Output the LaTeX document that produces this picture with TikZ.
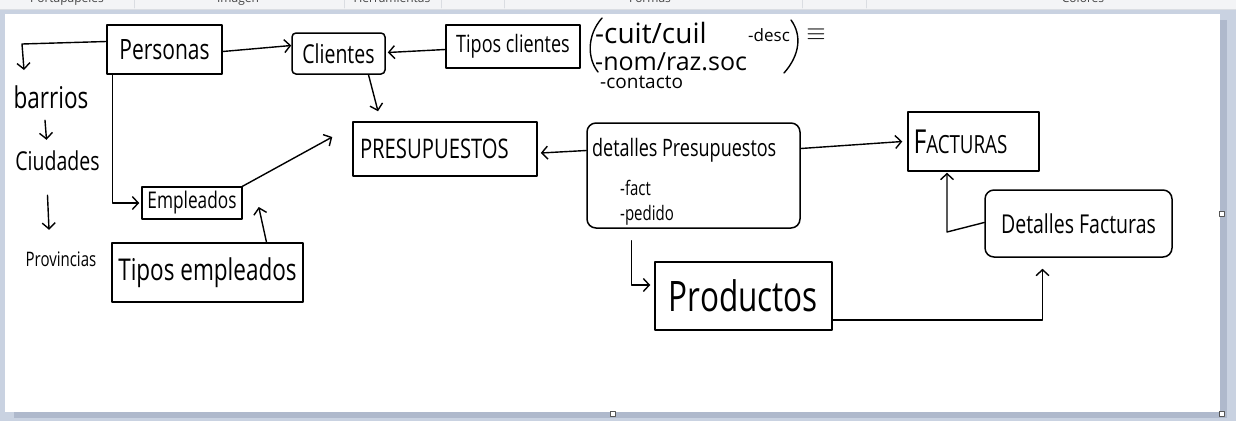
\documentclass[tikz,border=0pt]{standalone}
\usepackage{fontspec}
\setmainfont{Open Sans}
\newfontfamily\hand[FakeStretch=0.75]{Open Sans}
\usetikzlibrary{arrows.meta}
\definecolor{bgblue}{HTML}{C9D2E1}
\definecolor{shadowblue}{HTML}{AFB9CC}
\definecolor{barcol}{HTML}{F3F4F6}
\definecolor{barline}{HTML}{DADDE2}
\definecolor{uitext}{HTML}{444444}
\definecolor{handlecol}{HTML}{555555}
\begin{document}
\begin{tikzpicture}[x=1pt,y=-1pt,line join=round,line cap=round,
  box/.style={draw,line width=1.5pt,inner sep=0pt,font=\hand},
  lbl/.style={inner sep=0pt,font=\hand,text height=22pt,text depth=4pt},
  note/.style={inner sep=0pt,anchor=base west},
  arr/.style={line width=1.4pt,-{Straight Barb[length=6pt,width=13pt,line width=1.4pt]}},
  plain/.style={line width=1.4pt},
  uilbl/.style={inner sep=0pt,anchor=base,text=uitext,font=\fontsize{12}{12}\selectfont},
  handle/.style={draw=handlecol,fill=white,line width=0.8pt,minimum size=5pt,inner sep=0pt}]
\useasboundingbox (0,0) rectangle (1236,421);
% ---------- Paint window background ----------
\fill[bgblue] (0,0) rectangle (1236,421);
\fill[barcol] (0,0) rectangle (1236,8.5);
\draw[barline,line width=1pt] (0,9) -- (1236,9);
\foreach \sx in {134,344,441,504,802,866}{\draw[barline,line width=0.8pt] (\sx,0) -- (\sx,8);}
\begin{scope}
\clip (0,0) rectangle (1236,8.5);
\node[uilbl] (ui1) at (67,2.5) {Portapapeles};
\node[uilbl] (ui2) at (238,2.5) {Imagen};
\node[uilbl] (ui3) at (392,2.5) {Herramientas};
\node[uilbl] (ui4) at (650,2.5) {Formas};
\node[uilbl] (ui5) at (1083,2.5) {Colores};
\end{scope}
\fill[shadowblue] (1219,20) rectangle (1227,418);
\fill[shadowblue] (14,412) rectangle (1227,418);
\fill[white] (5,14) rectangle (1219.5,412);
\node[handle] (h1) at (1222,214) {};
\node[handle] (h2) at (1222,414) {};
\node[handle] (h3) at (613,414) {};
% ---------- Boxes ----------
\node[box,minimum width=115pt,minimum height=49pt] (per) at (164.5,49.5) {\fontsize{28}{30}\selectfont Personas};
\node[box,rounded corners=4pt,minimum width=93pt,minimum height=41pt] (cli) at (338.5,53.5) {\fontsize{26}{28}\selectfont Clientes};
\node[box,minimum width=134pt,minimum height=43pt] (tcli) at (513,46.5) {\fontsize{24}{26}\selectfont Tipos clientes};
\node[box,minimum width=100pt,minimum height=32pt] (emp) at (192,203) {\fontsize{23}{24}\selectfont Empleados};
\node[box,minimum width=191pt,minimum height=59pt] (temp) at (207.5,272.5) {\fontsize{30}{32}\selectfont Tipos empleados};
\node[box,minimum width=184pt,minimum height=54pt,text width=170pt,align=left] (pre) at (445,149) {\fontsize{27}{29}\selectfont PRESUPUESTOS};
\node[box,rounded corners=9pt,minimum width=213pt,minimum height=105pt] (detp) at (693.5,175.5) {};
\node[box,minimum width=177pt,minimum height=68pt] (prod) at (743.5,296) {\fontsize{42}{44}\selectfont Productos};
\node[box,minimum width=131pt,minimum height=59pt,text width=120pt,align=left] (fac) at (973.5,141.5) {{\fontsize{33}{33}\selectfont F}{\fontsize{25}{25}\selectfont ACTURAS}};
\node[box,rounded corners=9pt,minimum width=187pt,minimum height=67pt] (detf) at (1078.5,223.5) {\fontsize{26}{28}\selectfont Detalles Facturas};
% texts inside Detalles Presupuestos
\node[note,font=\hand\fontsize{24}{26}\selectfont] (detpt) at (592,156) {detalles Presupuestos};
\node[note,font=\hand\fontsize{20}{22}\selectfont] (detpf) at (620,195) {-fact};
\node[note,font=\hand\fontsize{20}{22}\selectfont] (detpp) at (620,220) {-pedido};
% ---------- Left column ----------
\node[lbl,font=\hand\fontsize{30}{32}\selectfont] (bar) at (51,99) {barrios};
\node[lbl,font=\hand\fontsize{26}{28}\selectfont] (ciu) at (57.5,161) {Ciudades};
\node[lbl,font=\hand\fontsize{20}{22}\selectfont] (prov) at (61,257) {Provincias};
% ---------- Annotation next to Tipos clientes ----------
\draw[plain] (602,18) .. controls (587,35) and (587,58) .. (598,72);
\draw[plain] (791,20) .. controls (802,35) and (800,55) .. (784,73);
\node[note,font=\fontsize{28}{30}\selectfont] (a1) at (595,43) {-cuit/cuil};
\node[note,font=\fontsize{17}{19}\selectfont] (a2) at (748,41) {-desc};
\node[inner sep=0pt,font=\fontsize{28}{28}\selectfont] (a3) at (816,35) {$\equiv$};
\node[note,font=\fontsize{25}{27}\selectfont] (a4) at (595,70) {-nom/raz.soc};
\node[note,font=\fontsize{19}{21}\selectfont] (a5) at (600,88) {-contacto};
% ---------- Connectors ----------
\draw[arr] ([yshift=8pt]per.west) -- (22,44) -- (24,70);
\draw[arr] ([xshift=-6pt,yshift=-8pt]bar.south) -- ([xshift=-11pt,yshift=8pt]ciu.north);
\draw[arr] ([xshift=-10pt,yshift=-21pt]ciu.south) -- ([xshift=-12pt,yshift=14pt]prov.north);
\draw[arr] ([yshift=-2pt]per.east) -- ([yshift=8pt]cli.west);
\draw[arr] ([yshift=-3pt]tcli.west) -- ([xshift=2pt,yshift=1pt]cli.east);
\draw[arr] ([xshift=30pt]cli.south) -- ([xshift=-67pt,yshift=10pt]pre.north);
\draw[arr] ([xshift=6pt]per.south west) |- ([xshift=-2pt]emp.west);
\draw[arr] ([xshift=-2pt,yshift=-1pt]emp.north east) -- ([xshift=-20pt,yshift=12pt]pre.west);
\draw[arr] ([xshift=59pt]temp.north) -- ([xshift=16pt,yshift=-4pt]emp.east);
\draw[arr] ([yshift=25pt]detp.west) -- ([xshift=3pt,yshift=-4pt]pre.east);
\draw[arr] ([yshift=27pt]detp.east) -- ([xshift=-5pt]fac.west);
\draw[arr] ([xshift=-62pt,yshift=-12pt]detp.south) |- ([xshift=-4pt,yshift=11pt]prod.west);
\draw[arr] ([yshift=-24pt]prod.east) -| ([xshift=-36pt,yshift=-11pt]detf.south);
\coordinate (fb) at (947,232);
\draw[arr] ([yshift=1pt]detf.west) -- (fb) -- ([yshift=-1pt]fb |- fac.south);
\end{tikzpicture}
\end{document}
